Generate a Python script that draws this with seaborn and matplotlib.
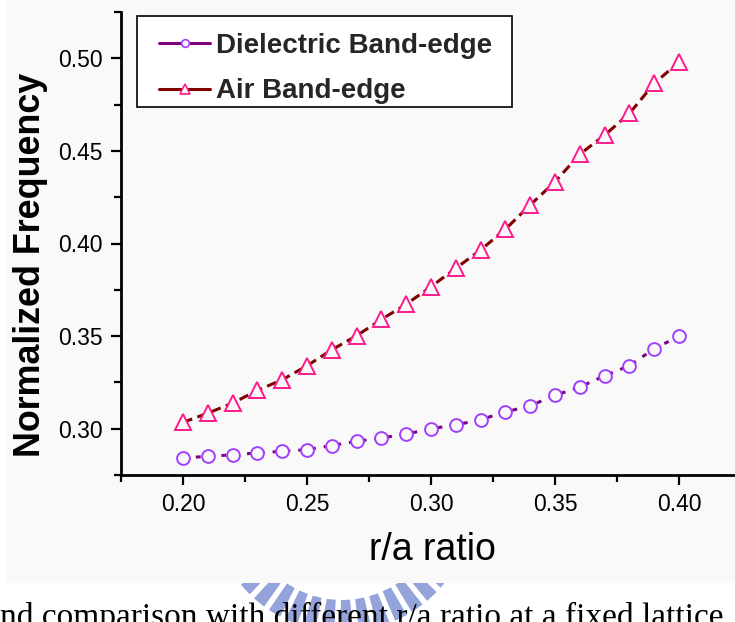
import numpy as np
import pandas as pd
import matplotlib
matplotlib.use("Agg")
import matplotlib.pyplot as plt
import matplotlib.patches as mpatches
from matplotlib.lines import Line2D
from matplotlib.ticker import FixedLocator
import seaborn as sns

# ---------------- data ----------------
ra_ratio = [0.20, 0.21, 0.22, 0.23, 0.24, 0.25, 0.26, 0.27, 0.28, 0.29, 0.30,
            0.31, 0.32, 0.33, 0.34, 0.35, 0.36, 0.37, 0.38, 0.39, 0.40]
dielectric_edge = [0.2842, 0.2851, 0.2859, 0.2869, 0.2878, 0.2887, 0.2909, 0.2932,
                   0.2950, 0.2971, 0.3000, 0.3020, 0.3049, 0.3090, 0.3124, 0.3180,
                   0.3225, 0.3286, 0.3340, 0.3432, 0.3499]
air_edge = [0.3034, 0.3084, 0.3138, 0.3207, 0.3264, 0.3340, 0.3426, 0.3502,
            0.3590, 0.3672, 0.3767, 0.3866, 0.3965, 0.4077, 0.4208, 0.4333,
            0.4482, 0.4585, 0.4702, 0.4864, 0.4980]
series_labels = ["Dielectric Band-edge", "Air Band-edge"]
x_ticks = [0.20, 0.25, 0.30, 0.35, 0.40]
x_tick_labels = ["0.20", "0.25", "0.30", "0.35", "0.40"]
y_ticks = [0.30, 0.35, 0.40, 0.45, 0.50]
y_tick_labels = ["0.30", "0.35", "0.40", "0.45", "0.50"]
x_minor = [0.175, 0.225, 0.275, 0.325, 0.375]
y_minor = [0.275, 0.325, 0.375, 0.425, 0.475, 0.525]
x_label = "r/a ratio"
y_label = "Normalized Frequency"
caption = "nd comparison with different r/a ratio at a fixed lattice"

df = pd.DataFrame({"ra": ra_ratio, "diel": dielectric_edge, "air": air_edge})

# ---------------- style ----------------
sns.set_theme(style="white")
plt.rcParams["font.family"] = ["Liberation Sans", "DejaVu Sans"]

W, H = 735, 622
fig = plt.figure(figsize=(W / 100, H / 100), dpi=100)
fig.patch.set_facecolor("white")

def fx(px):
    return px / W

def fy(py):
    return 1 - py / H

BG = "#f9f9f9"

# watermark logo (ring of radial stripes), partially covered by chart image
cx, cy = 342, 500
r_in, r_out = 100, 132
for ang in np.arange(190, 352, 8.2):
    a0 = np.deg2rad(ang - 2.6)
    a1 = np.deg2rad(ang + 2.6)
    pts = []
    for r, a in [(r_in, a0), (r_out, a0 - 0.004), (r_out, a1 + 0.004), (r_in, a1)]:
        px = cx + r * np.cos(a)
        py = cy - r * np.sin(a)
        pts.append((fx(px), fy(py)))
    fig.patches.append(mpatches.Polygon(pts, closed=True, transform=fig.transFigure,
                                        facecolor="#8899d6", edgecolor="none",
                                        alpha=0.9, zorder=0.5))

# chart image background (slightly grey)
fig.patches.append(mpatches.Rectangle((fx(7), fy(583)), fx(735 - 7), 583 / H,
                                      transform=fig.transFigure, facecolor=BG,
                                      edgecolor="none", zorder=1))

# caption text of the page, cut at the bottom edge as in the source
fig.text(fx(0), fy(626), caption, fontsize=24, family=["Liberation Serif", "DejaVu Serif"],
         ha="left", va="baseline", color="black", zorder=1.5)

ax = fig.add_axes([fx(121), fy(475), fx(735 - 121), 463 / H])
ax.set_zorder(2)
ax.set_facecolor("none")

sns.lineplot(data=df, x="ra", y="diel", ax=ax, color="#800080", lw=2.2,
             linestyle=(0, (1.6, 2.6)), marker="o", markersize=9.2,
             markeredgecolor="#a040ff", markerfacecolor=BG, markeredgewidth=1.4,
             errorbar=None, legend=False)
sns.lineplot(data=df, x="ra", y="air", ax=ax, color="#800000", lw=2.2,
             linestyle=(0, (3.2, 1.8)), marker="^", markersize=12.2,
             markeredgecolor="#ff1a8c", markerfacecolor=BG, markeredgewidth=1.4,
             errorbar=None, legend=False)

ax.set_xlim(0.175, 0.175 + 614 / 124 * 0.05)
ax.set_ylim(0.275, 0.525)

ax.set_xticks(x_ticks)
ax.set_xticklabels(x_tick_labels)
ax.set_yticks(y_ticks)
ax.set_yticklabels(y_tick_labels)
ax.xaxis.set_minor_locator(FixedLocator(x_minor))
ax.yaxis.set_minor_locator(FixedLocator(y_minor))

for s in ["top", "right"]:
    ax.spines[s].set_visible(False)
for s in ["left", "bottom"]:
    ax.spines[s].set_visible(True)
    ax.spines[s].set_color("black")
    ax.spines[s].set_linewidth(2.0)

ax.tick_params(which="major", direction="out", length=7.2, width=1.6, color="black",
               labelsize=16.5, labelcolor="black", pad=6, bottom=True, left=True)
ax.tick_params(which="minor", direction="out", length=5, width=1.6, color="black",
               bottom=True, left=True)

ax.set_xlabel(x_label, fontsize=27, color="black")
ax.set_ylabel(y_label, fontsize=25.8, fontweight="bold", color="black")
ax.xaxis.set_label_coords((432 - 121) / 614, (475 - 550) / 463)
ax.xaxis.label.set_va("center")
ax.yaxis.set_label_coords((31 - 121) / 614, (475 - 264.5) / 463)
ax.yaxis.label.set_va("center")

# legend frame drawn separately (box 137..512 x 16..107 px)
frame = mpatches.Rectangle(((137 - 121) / 614, (475 - 107) / 463),
                           (512 - 137) / 614, (107 - 16) / 463,
                           transform=ax.transAxes, facecolor="white",
                           edgecolor="black", linewidth=1.2, clip_on=False, zorder=4)
ax.add_patch(frame)

handles = [
    Line2D([], [], color="#800080", lw=2.2, marker="o", markersize=5.5,
           markeredgecolor="#a040ff", markerfacecolor="white", markeredgewidth=1.2),
    Line2D([], [], color="#800000", lw=2.2, marker="^", markersize=7,
           markeredgecolor="#ff1a8c", markerfacecolor="white", markeredgewidth=1.2),
]
leg = ax.legend(handles, series_labels, loc="upper left",
                bbox_to_anchor=((159 - 121) / 614, (475 - 33) / 463),
                borderaxespad=0, borderpad=0, frameon=False,
                prop={"family": "Liberation Sans", "weight": "bold", "size": 20},
                handlelength=1.85, handletextpad=0.2, labelspacing=0.7)
leg.set_zorder(5)

fig.savefig("out.png", dpi=100)
